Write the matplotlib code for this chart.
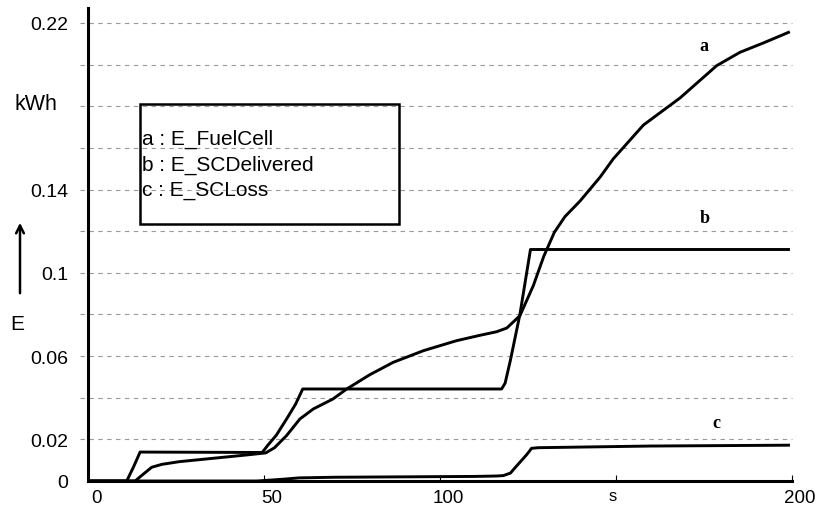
import matplotlib
matplotlib.use("Agg")
import matplotlib.pyplot as plt
from matplotlib.transforms import ScaledTranslation

plt.rcParams['font.family'] = ['Liberation Sans', 'DejaVu Sans']

# energy curves, time in s, energy in kWh
t_fc = [0, 13.4, 15.5, 18.1, 21, 26, 35.5, 45, 50.5, 53, 56.4, 60.2, 64, 69.6,
        73.5, 80, 86.7, 95.3, 104.7, 111.4, 116.1, 119, 122.7, 126.5, 129.5,
        132.5, 135.5, 139.8, 145.5, 149.2, 157.8, 168.2, 178.6, 185.2, 192, 199]
e_fc = [0, 0, 0.003, 0.0066, 0.008, 0.0093, 0.0109, 0.0125, 0.0135, 0.016,
        0.0218, 0.0298, 0.0346, 0.0394, 0.0442, 0.051, 0.057, 0.0626, 0.0674,
        0.070, 0.0717, 0.0735, 0.0794, 0.0938, 0.108, 0.1195, 0.127, 0.1345,
        0.146, 0.1547, 0.171, 0.184, 0.1995, 0.2059, 0.2105, 0.2155]

t_scd = [0, 11, 13, 14.8, 49.5, 51, 53.5, 56.5, 59, 61, 117.5, 118.5, 120,
         122.7, 125.7, 199]
e_scd = [0, 0, 0.007, 0.0139, 0.0137, 0.017, 0.022, 0.030, 0.037, 0.0442,
         0.0442, 0.047, 0.058, 0.080, 0.1112, 0.1112]

t_scl = [0, 48, 55, 60, 70, 90, 110, 116, 118, 120, 121.8, 123.5, 124.8, 126,
         128, 140, 160, 180, 199]
e_scl = [0, 0, 0.0008, 0.0015, 0.0018, 0.002, 0.0022, 0.0024, 0.0026, 0.0038,
         0.0073, 0.0105, 0.013, 0.0157, 0.016, 0.0163, 0.0168, 0.017, 0.0172]

grid_levels = [0.02, 0.04, 0.06, 0.08, 0.10, 0.12, 0.14, 0.16, 0.18, 0.20, 0.22]
ytick_vals = [0, 0.02, 0.06, 0.1, 0.14, 0.22]
ytick_text = ['0', '0.02', '0.06', '0.1', '0.14', '0.22']
xtick_vals = [0, 50, 100, 150, 200]
xtick_text = ['0', '50', '100', '', '200']

fig = plt.figure(figsize=(8.23, 5.06), dpi=100)
ax = fig.add_axes([88 / 823, 1 - 482 / 506, 704 / 823, 473 / 506])
ax.set_xlim(0, 200)
ax.set_ylim(0, 0.2272)

ax.hlines(grid_levels, -2.3, 200, colors='#9a9a9a', linestyles=(0, (4, 4)),
          linewidth=0.8, clip_on=False, zorder=1)

for t, e in [(t_fc, e_fc), (t_scd, e_scd), (t_scl, e_scl)]:
    ax.plot(t, e, color='black', lw=2.1, solid_joinstyle='round', zorder=3)

for s in ['top', 'right']:
    ax.spines[s].set_visible(False)
for s in ['left', 'bottom']:
    ax.spines[s].set_linewidth(2.2)

ax.set_yticks(ytick_vals)
ax.set_yticklabels(ytick_text, fontsize=14)
ax.tick_params(axis='y', length=0, pad=14)
ax.set_xticks(xtick_vals)
ax.set_xticklabels(xtick_text, fontsize=13.5)
ax.tick_params(axis='x', direction='in', length=4, width=0.8, pad=6)
# x labels sit a little right of their ticks
for lab in ax.get_xticklabels():
    lab.set_transform(lab.get_transform() + ScaledTranslation(0.08, 0, fig.dpi_scale_trans))

# curve labels
for name, xx, yy in [('a', 175, 0.209), ('b', 175.3, 0.1268), ('c', 178.4, 0.0279)]:
    ax.text(xx, yy, name, ha='center', va='center', fontsize=13,
            family='Liberation Serif', fontweight='bold')

# legend box
ax.add_patch(plt.Rectangle((14.8, 0.1234), 73.6, 0.0576, fill=False,
                           edgecolor='black', lw=1.8, zorder=4))
for i, lbl in enumerate(['a : E_FuelCell', 'b : E_SCDelivered', 'c : E_SCLoss']):
    ax.text(15.3, 0.1645 - i * 0.0122, lbl, ha='left', va='center', fontsize=15)

# axis annotations
fig.text(15 / 823, 1 - 104 / 506, 'kWh', ha='left', va='center', fontsize=15.5)
fig.text(17 / 823, 1 - 325 / 506, 'E', ha='center', va='center', fontsize=15)
fig.add_artist(matplotlib.patches.FancyArrowPatch(
    (20 / 823, 1 - 297 / 506), (20 / 823, 1 - 221 / 506),
    transform=fig.transFigure, arrowstyle='->', mutation_scale=14,
    lw=1.8, color='black'))
fig.text(613 / 823, 1 - 501 / 506, 's', ha='center', va='baseline', fontsize=12)

fig.savefig('out.png', dpi=100)
